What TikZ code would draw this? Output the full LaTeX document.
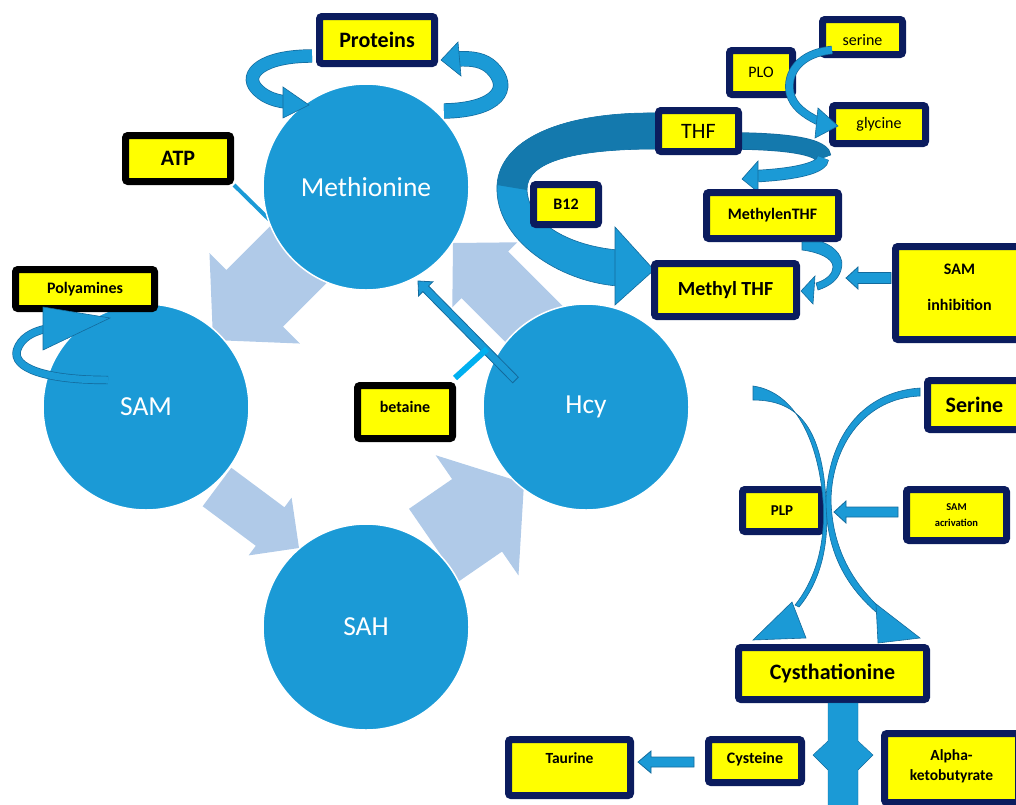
\documentclass[tikz,border=0pt]{standalone}
\usepackage{fontspec}
\setmainfont{Carlito}
\usetikzlibrary{calc}
\definecolor{cblue}{HTML}{1B9AD6}
\definecolor{cdark}{HTML}{1479AD}
\definecolor{cline}{HTML}{136A9C}
\definecolor{lblue}{HTML}{B0CAE8}
\definecolor{navy}{HTML}{0B1C5E}
\definecolor{ybox}{HTML}{FFFF00}
\definecolor{tcyan}{HTML}{00B0F0}
\tikzset{
 box/.style={draw=navy, line width=7pt, fill=ybox, rounded corners=2.5pt, inner sep=0pt, align=center, text=black},
 blk/.style={draw=black},
 circ/.style={circle, fill=cblue, draw=white, line width=1.5pt, minimum size=206pt, inner sep=0pt, text=white, font=\fontsize{27.5}{32}\selectfont},
 lightarr/.style={fill=lblue},
 smallarr/.style={fill=cblue, draw=cline, line width=0.8pt},
 rib/.style={draw=cline, line width=0.7pt, double=cblue, double distance=#1},
 ribfill/.style={fill=cblue, draw=cline, line width=0.6pt},
 ribdark/.style={fill=cdark},
 f22b/.style={font=\fontsize{22}{26}\selectfont\bfseries},
 f22/.style={font=\fontsize{22}{26}\selectfont},
 f20b/.style={font=\fontsize{20}{24}\selectfont\bfseries},
 f16b/.style={font=\fontsize{16}{19}\selectfont\bfseries},
 f155b/.style={font=\fontsize{15.5}{20}\selectfont\bfseries},
 f15b/.style={font=\fontsize{15}{18}\selectfont\bfseries},
 f16/.style={font=\fontsize{16}{19}\selectfont},
 f10b/.style={font=\fontsize{10.5}{15.5}\selectfont\bfseries},
 tbar/.style={draw=tcyan, line width=6pt},
 atpline/.style={draw=cblue, line width=4pt},
}
\newcommand{\upby}[2]{\raisebox{0pt}[\height][\dimexpr\depth+#1\relax]{#2}}
\newcommand{\downby}[2]{\raisebox{0pt}[\dimexpr\height+#1\relax][\depth]{#2}}
\newcommand{\bx}[7][]{%
 \pgfmathsetmacro\bxX{(#3+#5)/2}%
 \pgfmathsetmacro\bxY{(#4+#6)/2}%
 \pgfmathsetmacro\bxW{#5-#3-7}%
 \pgfmathsetmacro\bxH{#6-#4-7}%
 \node[box,minimum width=\bxW pt,minimum height=\bxH pt,#1] (#2) at (\bxX,\bxY) {#7};}
\newcommand{\blockarrow}[6]{%
 \coordinate (ba-b) at ($(#3)!#6pt!(#2)$);
 \path[#1] ($(#2)!#4pt!90:(#3)$) -- ($(ba-b)!#4pt!90:(#3)$) -- ($(ba-b)!#5pt!90:(#3)$) -- (#3) -- ($(ba-b)!#5pt!-90:(#3)$) -- ($(ba-b)!#4pt!-90:(#3)$) -- ($(#2)!#4pt!-90:(#3)$) -- cycle;}
\begin{document}
\begin{tikzpicture}[x=1pt,y=-1pt]
\useasboundingbox (0,0) rectangle (1016,804);
\clip (0,0) rectangle (1016,804);
% light cycle arrows
\coordinate (a1t) at (335,218); \coordinate (a1h) at (213,340);
\coordinate (a2t) at (217,487); \coordinate (a2h) at (299,548);
\coordinate (a3t) at (434,545); \coordinate (a3h) at (524,483);
\coordinate (a4t) at (560,350); \coordinate (a4h) at (453,243);
\blockarrow{lightarr}{a1t}{a1h}{40}{64}{59}
\blockarrow{lightarr}{a2t}{a2h}{24}{36}{36}
\blockarrow{lightarr}{a3t}{a3h}{44}{73}{57}
\blockarrow{lightarr}{a4t}{a4h}{33}{46}{45}
% ATP box and its line
\bx[blk,f22b]{atp}{122}{132}{234}{185}{ATP}
\coordinate (atpM) at (290,240);
\draw[atpline] (atp.south east) -- (atpM);
% circles
\node[circ] (met) at (366,187) {Methionine};
\node[circ] (sam) at (146,407) {SAM};
\node[circ] (sah) at (366,627) {SAH};
\node[circ] (hcy) at (586,407) {Hcy};
% betaine arrow
\coordinate (bt) at (515.5,380); \coordinate (bh) at (418,281);
\blockarrow{smallarr}{bt}{bh}{4}{10}{11}
\coordinate (tbs) at (455,378); \coordinate (tbe) at (487,349);
\draw[tbar] (tbs) -- (tbe);
% THF big band
\path[ribfill] (656,113) .. controls (560,112) and (500,140) .. (497,185) .. controls (494,240) and (560,282) .. (618,286) -- (618,250) .. controls (572,246) and (529,225) .. (527,190) .. controls (526,160) and (580,149) .. (656,149) -- cycle;
\path[ribdark] (656,113) .. controls (560,112) and (500,140) .. (497,185) -- (527,190) .. controls (526,160) and (580,149) .. (656,149) -- cycle;
\path[ribfill] (615,227) -- (654,270) -- (615,305) -- cycle;
% THF -> MethylenTHF
\draw[rib=16pt, double=cdark] (741,141) .. controls (795,142) and (823,148) .. (823,158);
\draw[rib=11pt] (823,158) .. controls (823,168) and (795,174) .. (758,176);
\path[ribfill] (758,161) -- (742,179) -- (758,192) -- cycle;
% boxes
\bx[f22b]{prot}{316}{13}{438}{67}{Proteins}
\bx[blk,f16b]{poly}{12}{266}{158}{312}{Polyamines}
\bx[blk,f16b]{bet}{354}{382}{456}{442}{\raisebox{10pt}{betaine}}
\bx[f22]{thf}{655}{107}{742}{155}{THF}
\bx[f16b]{b12}{530}{181}{602}{228}{B12}
\bx[f16b]{mthf}{703}{189}{842}{242}{MethylenTHF}
\bx[f20b]{methyl}{651}{260}{800}{320}{\raisebox{4pt}{Methyl THF}}
\bx[f16b]{saminh}{892}{243}{1027}{343}{\upby{8pt}{\begin{tabular}{@{}c@{}}SAM\\[17pt]inhibition\end{tabular}}}
\bx[f16]{plo}{726}{47}{796}{98}{PLO}
\bx[f16]{ser}{819}{16}{906}{58}{\downby{7pt}{serine}}
\bx[f16]{gly}{829}{102}{929}{147}{glycine}
\bx[f22b]{Ser}{924}{377}{1025}{433}{Serine}
\bx[f15b]{plp}{739}{486}{825}{535}{PLP}
\bx[f10b]{samact}{903}{486}{1010}{544}{SAM\\acrivation}
\bx[f22b]{cys}{735}{644}{930}{703}{Cysthationine}
\bx[f155b]{taur}{505}{736}{634}{799}{\raisebox{18pt}{Taurine}}
\bx[f16b]{cyst}{705}{736}{805}{786}{\raisebox{6pt}{Cysteine}}
\bx[f155b]{alpha}{881}{730}{1022}{806}{\upby{3pt}{\begin{tabular}{@{}c@{}}Alpha-\\ketobutyrate\end{tabular}}}
% Proteins ribbons
\draw[rib=12pt] (312,56) .. controls (262,56) and (244,74) .. (256,88) .. controls (263,96) and (272,100) .. (285,102);
\path[ribfill] (283,87) -- (309,105) -- (283,118) -- cycle;
\draw[rib=14pt] (444,111) .. controls (498,110) and (512,88) .. (492,68) .. controls (484,60) and (472,58) .. (457,59);
\path[ribfill] (458,42) -- (441,60) -- (461,76) -- cycle;
% Polyamines ribbon
\draw[rib=7pt] (108,380) .. controls (45,380) and (12,368) .. (17,350) .. controls (21,338) and (32,332) .. (45,329);
\path[ribfill] (43,307) -- (110,318) -- (43,350) -- cycle;
% MethylenTHF -> Methyl THF
\path[ribfill] (802,242) -- (822,242) .. controls (836,247) and (845,258) .. (841,270) .. controls (838,280) and (830,286) .. (818,290) -- (816,283) .. controls (826,280) and (833,274) .. (833,267) .. controls (833,258) and (818,252) .. (802,250) -- cycle;
\path[ribfill] (815,276) -- (801,291) -- (813,304) -- cycle;
% serine -> glycine
\draw[rib=7pt] (832,50) .. controls (800,53) and (786,73) .. (790,93) .. controls (793,106) and (804,114) .. (818,121);
\path[ribfill] (818,108) -- (838,126) -- (815,138) -- cycle;
% crossing curves to Cysthationine
\path[ribfill] (753,386) .. controls (795,392) and (818,440) .. (823,500) .. controls (826,545) and (815,580) .. (795,605) -- (799,607) .. controls (820,582) and (830,545) .. (826,500) .. controls (822,430) and (800,400) .. (753,400) -- cycle;
\path[ribfill] (792,602) -- (753,640) -- (806,638) -- cycle;
\path[ribfill] (920,388) .. controls (860,392) and (828,440) .. (826,500) .. controls (826,550) and (845,585) .. (876,612) -- (880,608) .. controls (850,580) and (832,545) .. (831,500) .. controls (832,445) and (865,398) .. (920,396) -- cycle;
\path[ribfill] (876,604) -- (920,638) -- (878,643) -- cycle;
% small arrows
\coordinate (siT) at (891,278); \coordinate (siH) at (846,278);
\blockarrow{smallarr}{siT}{siH}{5.5}{11}{12}
\coordinate (saT) at (898,512); \coordinate (saH) at (834,512);
\blockarrow{smallarr}{saT}{saH}{5}{11}{12}
\coordinate (tuT) at (694,762); \coordinate (tuH) at (638,762);
\blockarrow{smallarr}{tuT}{tuH}{5}{11}{13}
% Cysthationine split arrow
\path[fill=cblue, draw=cline, line width=0.4pt] (828,703) -- (858,703) -- (858,741) -- (873,755) -- (858,770) -- (858,812) -- (828,812) -- (828,770) -- (813,755) -- (828,741) -- cycle;
\end{tikzpicture}
\end{document}
